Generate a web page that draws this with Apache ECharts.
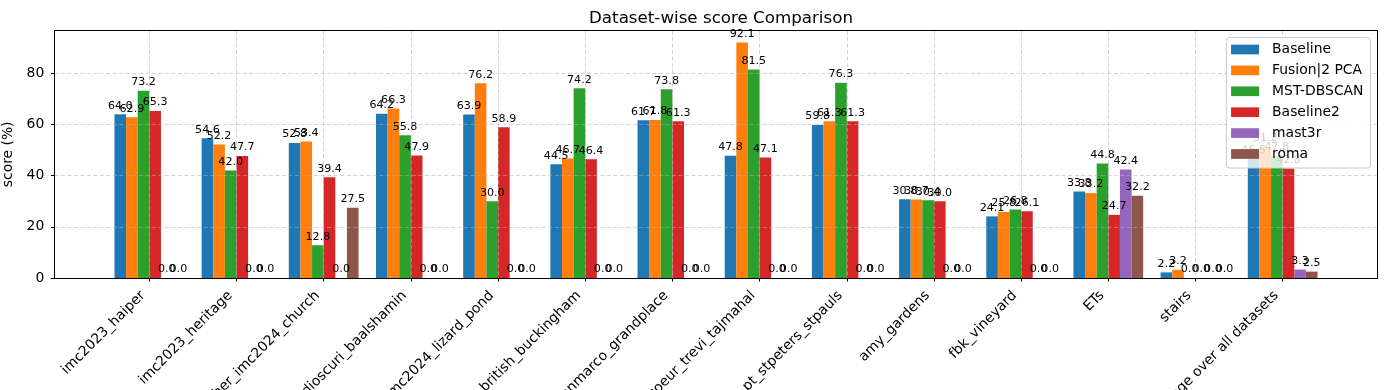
<!DOCTYPE html>
<html>
<head>
<meta charset="utf-8">
<script src="https://cdn.jsdelivr.net/npm/echarts@6/dist/echarts.min.js"></script>
<style>
html,body{margin:0;padding:0;background:#fff;}
#chart{width:1384px;height:390px;}
</style>
</head>
<body>
<div id="chart"></div>
<script>
const categories = ['imc2023_haiper','imc2023_heritage','imc2023_theather_imc2024_church','imc2024_dioscuri_baalshamin','imc2024_lizard_pond','pt_brandenburg_british_buckingham','pt_piazzasanmarco_grandplace','pt_sacrecoeur_trevi_tajmahal','pt_stpeters_stpauls','amy_gardens','fbk_vineyard','ETs','stairs','Average over all datasets'];
const seriesNames = ['Baseline','Fusion|2 PCA','MST-DBSCAN','Baseline2','mast3r','roma'];
const baseline  = [64.0, 54.6, 52.8, 64.2, 63.9, 44.5, 61.7, 47.8, 59.8, 30.8, 24.1, 33.8, 2.2, 46.5];
const fusion    = [62.9, 52.2, 53.4, 66.3, 76.2, 46.7, 61.8, 92.1, 61.3, 30.7, 25.8, 33.2, 3.2, 51.2];
const mstdbscan = [73.2, 42.0, 12.8, 55.8, 30.0, 74.2, 73.8, 81.5, 76.3, 30.4, 26.8, 44.8, 0.0, 47.8];
const baseline2 = [65.3, 47.7, 39.4, 47.9, 58.9, 46.4, 61.3, 47.1, 61.3, 30.0, 26.1, 24.7, 0.0, 42.8];
const mast3r    = [0.0, 0.0, 0.0, 0.0, 0.0, 0.0, 0.0, 0.0, 0.0, 0.0, 0.0, 42.4, 0.0, 3.3];
const roma      = [0.0, 0.0, 27.5, 0.0, 0.0, 0.0, 0.0, 0.0, 0.0, 0.0, 0.0, 32.2, 0.0, 2.5];
const yTicks = [0, 20, 40, 60, 80];
const colors = ['#1f77b4','#ff7f0e','#2ca02c','#d62728','#9467bd','#8c564b'];

const FONT = 'DejaVu Sans';
const W = 1384, H = 390;
const frame = {left: 54.3, right: 1377.7, top: 30.7, bottom: 278};
const xlim = [-1.09, 14.09];
const yMax = 96.7;
const unit = (frame.right - frame.left) / (xlim[1] - xlim[0]);
const px = v => frame.left + (v - xlim[0]) * unit;
const n = categories.length;
const barW = unit * 0.8 / 6;

const dataSets = [baseline, fusion, mstdbscan, baseline2, mast3r, roma];
const gridColor = 'rgba(176,176,176,0.55)';

const series = dataSets.map((d, i) => ({
  name: seriesNames[i],
  type: 'bar',
  xAxisIndex: 2, yAxisIndex: 2,
  data: d,
  barWidth: barW,
  barGap: '0%',
  itemStyle: {color: colors[i]},
  z: 2,
  label: {
    show: true, position: 'top', distance: 3,
    formatter: p => p.value.toFixed(1),
    fontFamily: FONT, fontSize: 11.1, color: '#000'
  }
}));

const gridBase = {top: frame.top, height: frame.bottom - frame.top, show: false, containLabel: false, outerBoundsMode: 'none'};

const chart = echarts.init(document.getElementById('chart'), null, {renderer: 'canvas'});
chart.setOption({
  animation: false,
  backgroundColor: '#fff',
  title: {
    text: 'Dataset-wise score Comparison',
    left: (frame.left + frame.right) / 2, top: 5, textAlign: 'center',
    textStyle: {fontFamily: FONT, fontSize: 16.7, fontWeight: 'normal', color: '#000'}
  },
  legend: {
    orient: 'vertical',
    right: W - 1370.5, top: 37.5,
    data: seriesNames,
    icon: 'rect', itemWidth: 28, itemHeight: 9.7, itemGap: 6.9,
    padding: [5, 7, 7, 4.7],
    backgroundColor: 'rgba(255,255,255,0.8)',
    borderColor: '#cccccc', borderWidth: 1, borderRadius: 3,
    z: 10,
    textStyle: {fontFamily: FONT, fontSize: 13.9, color: '#000', lineHeight: 14, padding: [0, 0, 0, 8]}
  },
  grid: [
    Object.assign({left: frame.left, width: frame.right - frame.left}, gridBase),
    Object.assign({left: px(-0.5), width: px(n - 0.5) - px(-0.5)}, gridBase),
    Object.assign({left: px(0), width: px(n - 1) - px(0)}, gridBase)
  ],
  xAxis: [
    {gridIndex: 0, type: 'value', min: 0, max: 1, position: 'bottom', z: 6,
      axisLine: {show: true, onZero: false, lineStyle: {color: '#000', width: 1}}, axisTick: {show: false}, axisLabel: {show: false}, splitLine: {show: false}},
    {gridIndex: 0, type: 'value', min: 0, max: 1, position: 'top', z: 6,
      axisLine: {show: true, onZero: false, lineStyle: {color: '#000', width: 1}}, axisTick: {show: false}, axisLabel: {show: false}, splitLine: {show: false}},
    {gridIndex: 1, type: 'category', data: categories, boundaryGap: true, position: 'bottom',
      axisLine: {show: false, onZero: false}, axisTick: {show: false}, splitLine: {show: false},
      axisLabel: {interval: 0, rotate: 45, margin: 9, padding: [0, 9, 0, 0], fontFamily: FONT, fontSize: 13.9, color: '#000'}},
    {gridIndex: 2, type: 'category', data: categories.slice(0, n - 1), boundaryGap: true, z: 3, position: 'bottom',
      axisLine: {show: false, onZero: false}, axisLabel: {show: false},
      axisTick: {show: true, interval: 0, length: 3.5, lineStyle: {color: '#000', width: 1}},
      splitLine: {show: true, interval: 0, lineStyle: {color: gridColor, type: [4, 2.5], width: 1}}}
  ],
  yAxis: [
    {gridIndex: 0, type: 'value', min: 0, max: yMax, interval: 20, position: 'left', z: 3,
      name: 'score (%)', nameLocation: 'middle', nameGap: 30,
      nameTextStyle: {fontFamily: FONT, fontSize: 13.9, color: '#000'},
      axisLine: {show: true, onZero: false, lineStyle: {color: '#000', width: 1}},
      axisTick: {show: true, length: 3.5, customValues: yTicks, lineStyle: {color: '#000', width: 1}},
      axisLabel: {margin: 10, customValues: yTicks, fontFamily: FONT, fontSize: 13.9, color: '#000'},
      splitLine: {show: true, lineStyle: {color: gridColor, type: [4, 2.5], width: 1}}},
    {gridIndex: 0, type: 'value', min: 0, max: yMax, position: 'right', z: 6,
      axisLine: {show: true, onZero: false, lineStyle: {color: '#000', width: 1}}, axisTick: {show: false}, axisLabel: {show: false}, splitLine: {show: false}},
    {gridIndex: 1, type: 'value', min: 0, max: yMax, show: false, splitLine: {show: false}},
    {gridIndex: 2, type: 'value', min: 0, max: yMax, show: false, splitLine: {show: false}}
  ],
  series: series
});
</script>
</body>
</html>
